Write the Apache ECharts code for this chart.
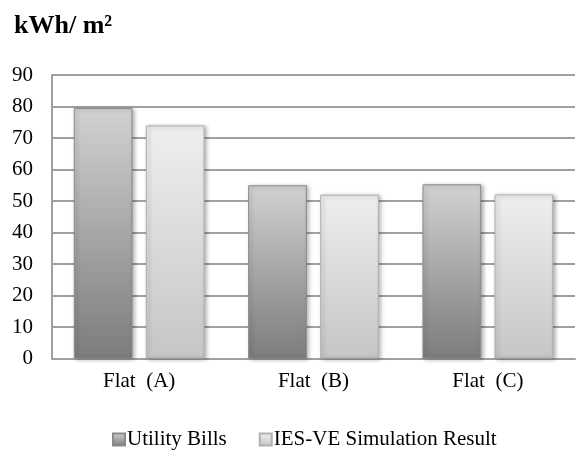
<!DOCTYPE html>
<html>
<head>
<meta charset="utf-8">
<script src="https://cdn.jsdelivr.net/npm/echarts@6/dist/echarts.min.js"></script>
<style>html,body{margin:0;padding:0;background:#fff;}#c{width:579px;height:454px;}</style>
</head>
<body>
<div id="c"></div>
<script>
const categories = ['Flat  (A)', 'Flat  (B)', 'Flat  (C)'];
const utilityBills = [79.5, 55, 55.3];
const iesResult = [74, 52, 52.1];
const seriesNames = ['Utility Bills', 'IES-VE Simulation Result'];
const unitTitle = 'kWh/ m²';

const serif = '"Liberation Serif", "Times New Roman", serif';
const chart = echarts.init(document.getElementById('c'));
const grad = (a, b) => new echarts.graphic.LinearGradient(0, 0, 0, 1, [{offset: 0, color: a}, {offset: 1, color: b}]);
chart.setOption({
  animation: false,
  backgroundColor: '#fff',
  title: {text: unitTitle, left: 14, top: 13, padding: 0, textStyle: {fontFamily: serif, fontSize: 26, fontWeight: 'bold', color: '#000'}},
  legend: {
    left: 112, top: 429, padding: 0, itemWidth: 12, itemHeight: 12, itemGap: 32, icon: 'rect',
    textStyle: {fontFamily: serif, fontSize: 21, color: '#000', padding: [0, 0, 0, -3]},
    data: seriesNames
  },
  grid: {left: 52, right: 4, top: 75, bottom: 95.5, containLabel: false},
  xAxis: {
    type: 'category', data: categories,
    axisLine: {lineStyle: {color: '#a0a0a0', width: 2}},
    axisTick: {show: false},
    axisLabel: {fontFamily: serif, fontSize: 21, color: '#000', margin: 12}
  },
  yAxis: {
    type: 'value', min: 0, max: 90, interval: 10,
    axisLine: {show: true, lineStyle: {color: '#a0a0a0', width: 2}},
    axisTick: {show: false},
    splitLine: {lineStyle: {color: '#a0a0a0', width: 2}},
    axisLabel: {fontFamily: serif, fontSize: 21, color: '#000', margin: 19}
  },
  series: [
    {
      name: seriesNames[0], type: 'bar', data: utilityBills,
      barGap: '22.7%', barCategoryGap: '25%',
      itemStyle: {color: grad('#d2d2d2', '#7c7c7c'), borderColor: '#8a8a8a', borderWidth: 1,
        shadowColor: 'rgba(0,0,0,0.3)', shadowBlur: 4, shadowOffsetX: 2, shadowOffsetY: 1}
    },
    {
      name: seriesNames[1], type: 'bar', data: iesResult,
      itemStyle: {color: grad('#efefef', '#c6c6c6'), borderColor: '#b0b0b0', borderWidth: 1,
        shadowColor: 'rgba(0,0,0,0.3)', shadowBlur: 4, shadowOffsetX: 2, shadowOffsetY: 1}
    }
  ]
});
</script>
</body>
</html>
